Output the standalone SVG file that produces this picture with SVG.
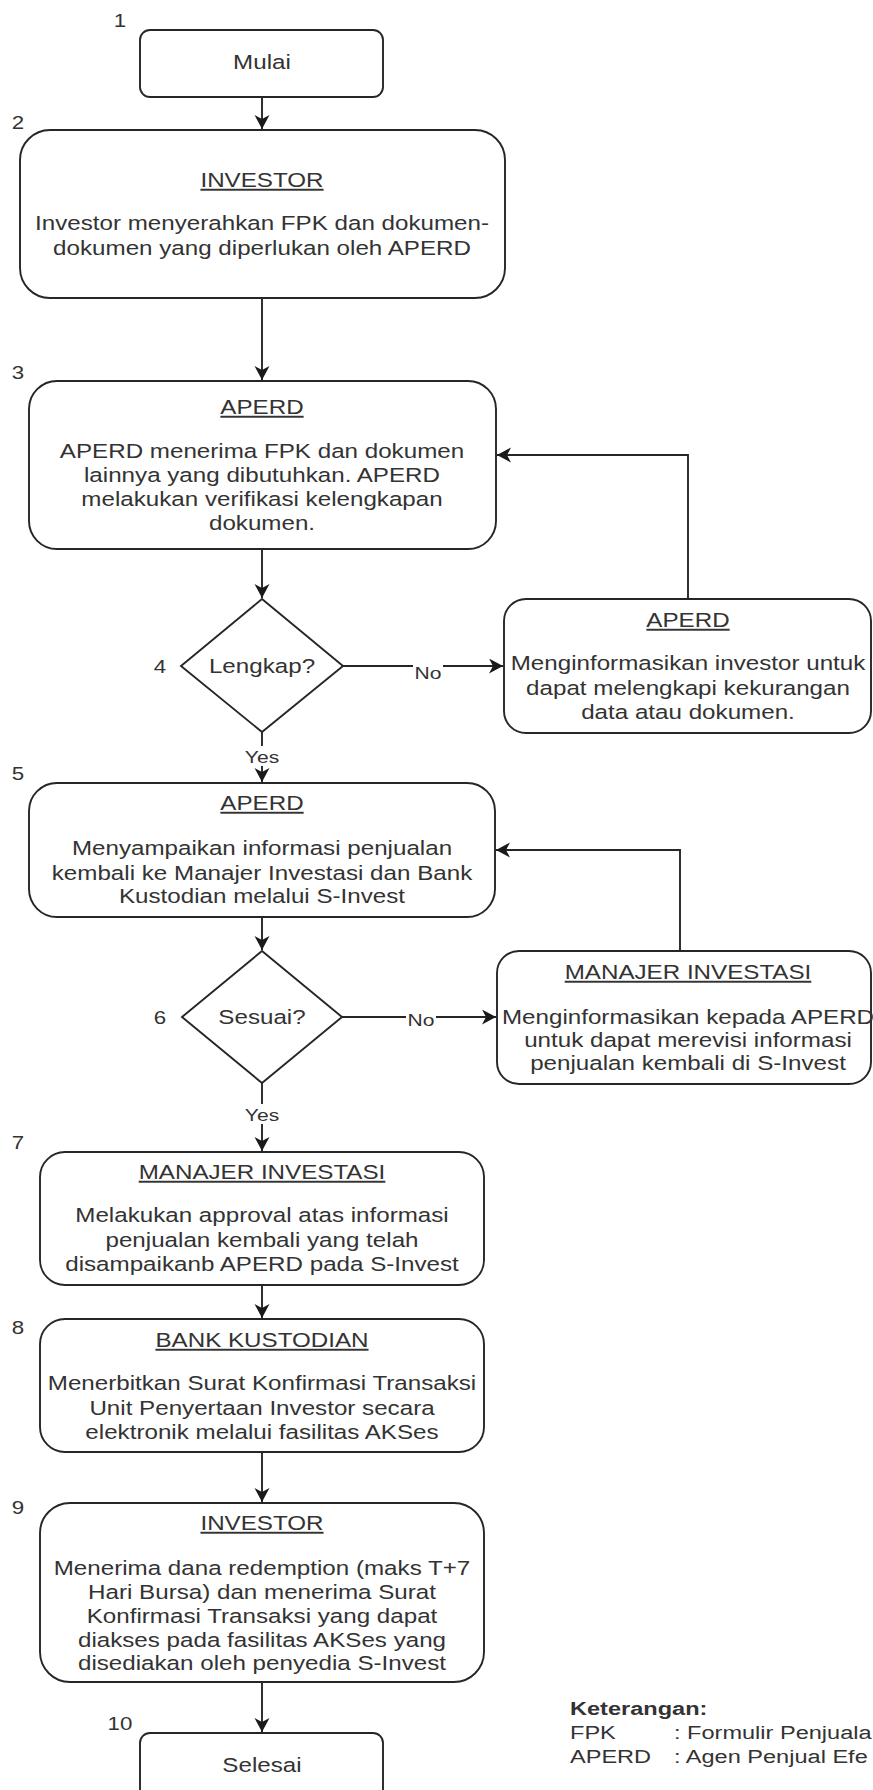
<svg xmlns="http://www.w3.org/2000/svg" width="873" height="1790" viewBox="0 0 873 1790">
<style>
  .box{fill:#ffffff;stroke:#262626;stroke-width:1.9}
  .ln{fill:none;stroke:#262626;stroke-width:1.9}
  .t{font-family:"Liberation Sans",Arial,sans-serif;font-size:19.5px;fill:#333333;text-anchor:middle}
  .h{text-decoration:underline}
  .num{font-family:"Liberation Sans",Arial,sans-serif;font-size:18px;fill:#333333;text-anchor:middle}
  .lbl{font-family:"Liberation Sans",Arial,sans-serif;font-size:17px;fill:#333333;text-anchor:middle}
  .lg{font-family:"Liberation Sans",Arial,sans-serif;font-size:19px;fill:#333333}
  .bg{fill:#ffffff}
</style>
<defs>
  <marker id="arr" markerUnits="userSpaceOnUse" markerWidth="16" markerHeight="16" refX="14" refY="7.5" orient="auto">
    <path d="M0,0 L14,7.5 L0,15 L4,7.5 Z" fill="#1a1a1a"/>
  </marker>
</defs>
<rect width="873" height="1790" fill="#ffffff"/>

<g id="connectors">
  <line class="ln" x1="262" y1="97" x2="262" y2="129" marker-end="url(#arr)"/>
  <line class="ln" x1="262" y1="298" x2="262" y2="380" marker-end="url(#arr)"/>
  <line class="ln" x1="262" y1="549" x2="262" y2="598" marker-end="url(#arr)"/>
  <line class="ln" x1="343" y1="666" x2="503" y2="666" marker-end="url(#arr)"/>
  <rect class="bg" x="413" y="658" width="30" height="22"/>
  <g transform="translate(428 0) scale(1.24 1)"><text class="lbl" x="0" y="679">No</text></g>
  <polyline class="ln" points="688,599 688,455 497,455" marker-end="url(#arr)"/>
  <line class="ln" x1="262" y1="732" x2="262" y2="782" marker-end="url(#arr)"/>
  <rect class="bg" x="242" y="746" width="40" height="20"/>
  <g transform="translate(262 0) scale(1.24 1)"><text class="lbl" x="0" y="763">Yes</text></g>
  <line class="ln" x1="262" y1="917" x2="262" y2="950" marker-end="url(#arr)"/>
  <line class="ln" x1="342" y1="1017" x2="496" y2="1017" marker-end="url(#arr)"/>
  <rect class="bg" x="406" y="1009" width="30" height="22"/>
  <g transform="translate(421 0) scale(1.24 1)"><text class="lbl" x="0" y="1026">No</text></g>
  <polyline class="ln" points="680,951 680,850 496,850" marker-end="url(#arr)"/>
  <line class="ln" x1="262" y1="1083" x2="262" y2="1151" marker-end="url(#arr)"/>
  <rect class="bg" x="242" y="1104" width="40" height="20"/>
  <g transform="translate(262 0) scale(1.24 1)"><text class="lbl" x="0" y="1121">Yes</text></g>
  <line class="ln" x1="262" y1="1285" x2="262" y2="1318" marker-end="url(#arr)"/>
  <line class="ln" x1="262" y1="1452" x2="262" y2="1502" marker-end="url(#arr)"/>
  <line class="ln" x1="262" y1="1682" x2="262" y2="1732" marker-end="url(#arr)"/>
</g>

<g id="n1">
  <rect class="box" x="140" y="30" width="243" height="67" rx="10"/>
  <g transform="translate(120 0) scale(1.24 1)"><text class="num" x="0" y="27">1</text></g>
  <g transform="translate(262 0) scale(1.24 1)"><text class="t" x="0" y="69">Mulai</text></g>
</g>

<g id="n2">
  <rect class="box" x="20" y="130" width="485" height="168" rx="30"/>
  <g transform="translate(18 0) scale(1.24 1)"><text class="num" x="0" y="129">2</text></g>
  <g transform="translate(262 0) scale(1.24 1)">
    <text class="t h" x="0" y="187">INVESTOR</text>
    <text class="t" x="0" y="230">Investor menyerahkan FPK dan dokumen-</text>
    <text class="t" x="0" y="255">dokumen yang diperlukan oleh APERD</text>
  </g>
</g>

<g id="n3">
  <rect class="box" x="29" y="381" width="467" height="168" rx="28"/>
  <g transform="translate(18 0) scale(1.24 1)"><text class="num" x="0" y="379">3</text></g>
  <g transform="translate(262 0) scale(1.24 1)">
    <text class="t h" x="0" y="414">APERD</text>
    <text class="t" x="0" y="458">APERD menerima FPK dan dokumen</text>
    <text class="t" x="0" y="482">lainnya yang dibutuhkan. APERD</text>
    <text class="t" x="0" y="506">melakukan verifikasi kelengkapan</text>
    <text class="t" x="0" y="530">dokumen.</text>
  </g>
</g>

<g id="n4">
  <polygon class="box" points="262,599 343,666 262,732 181,666"/>
  <g transform="translate(160 0) scale(1.24 1)"><text class="num" x="0" y="673">4</text></g>
  <g transform="translate(262 0) scale(1.24 1)"><text class="t" x="0" y="673">Lengkap?</text></g>
</g>

<g id="n4b">
  <rect class="box" x="504" y="599" width="367" height="134" rx="22"/>
  <g transform="translate(688 0) scale(1.24 1)">
    <text class="t h" x="0" y="627">APERD</text>
    <text class="t" x="0" y="670">Menginformasikan investor untuk</text>
    <text class="t" x="0" y="695">dapat melengkapi kekurangan</text>
    <text class="t" x="0" y="719">data atau dokumen.</text>
  </g>
</g>

<g id="n5">
  <rect class="box" x="29" y="783" width="466" height="134" rx="28"/>
  <g transform="translate(18 0) scale(1.24 1)"><text class="num" x="0" y="780">5</text></g>
  <g transform="translate(262 0) scale(1.24 1)">
    <text class="t h" x="0" y="810">APERD</text>
    <text class="t" x="0" y="855">Menyampaikan informasi penjualan</text>
    <text class="t" x="0" y="880">kembali ke Manajer Investasi dan Bank</text>
    <text class="t" x="0" y="903">Kustodian melalui S-Invest</text>
  </g>
</g>

<g id="n6">
  <polygon class="box" points="262,951 342,1017 262,1083 182,1017"/>
  <g transform="translate(160 0) scale(1.24 1)"><text class="num" x="0" y="1024">6</text></g>
  <g transform="translate(262 0) scale(1.24 1)"><text class="t" x="0" y="1024">Sesuai?</text></g>
</g>

<g id="n6b">
  <rect class="box" x="497" y="951" width="374" height="133" rx="22"/>
  <g transform="translate(688 0) scale(1.24 1)">
    <text class="t h" x="0" y="979">MANAJER INVESTASI</text>
    <text class="t" x="0" y="1024">Menginformasikan kepada APERD</text>
    <text class="t" x="0" y="1047">untuk dapat merevisi informasi</text>
    <text class="t" x="0" y="1070">penjualan kembali di S-Invest</text>
  </g>
</g>

<g id="n7">
  <rect class="box" x="40" y="1152" width="444" height="133" rx="25"/>
  <g transform="translate(18 0) scale(1.24 1)"><text class="num" x="0" y="1149">7</text></g>
  <g transform="translate(262 0) scale(1.24 1)">
    <text class="t h" x="0" y="1179">MANAJER INVESTASI</text>
    <text class="t" x="0" y="1222">Melakukan approval atas informasi</text>
    <text class="t" x="0" y="1247">penjualan kembali yang telah</text>
    <text class="t" x="0" y="1271">disampaikanb APERD pada S-Invest</text>
  </g>
</g>

<g id="n8">
  <rect class="box" x="40" y="1319" width="444" height="133" rx="25"/>
  <g transform="translate(18 0) scale(1.24 1)"><text class="num" x="0" y="1334">8</text></g>
  <g transform="translate(262 0) scale(1.24 1)">
    <text class="t h" x="0" y="1347">BANK KUSTODIAN</text>
    <text class="t" x="0" y="1390">Menerbitkan Surat Konfirmasi Transaksi</text>
    <text class="t" x="0" y="1415">Unit Penyertaan Investor secara</text>
    <text class="t" x="0" y="1439">elektronik melalui fasilitas AKSes</text>
  </g>
</g>

<g id="n9">
  <rect class="box" x="40" y="1503" width="444" height="179" rx="30"/>
  <g transform="translate(18 0) scale(1.24 1)"><text class="num" x="0" y="1514">9</text></g>
  <g transform="translate(262 0) scale(1.24 1)">
    <text class="t h" x="0" y="1530">INVESTOR</text>
    <text class="t" x="0" y="1575">Menerima dana redemption (maks T+7</text>
    <text class="t" x="0" y="1599">Hari Bursa) dan menerima Surat</text>
    <text class="t" x="0" y="1623">Konfirmasi Transaksi yang dapat</text>
    <text class="t" x="0" y="1647">diakses pada fasilitas AKSes yang</text>
    <text class="t" x="0" y="1670">disediakan oleh penyedia S-Invest</text>
  </g>
</g>

<g id="n10">
  <rect class="box" x="140" y="1733" width="243" height="67" rx="10"/>
  <g transform="translate(120 0) scale(1.24 1)"><text class="num" x="0" y="1730">10</text></g>
  <g transform="translate(262 0) scale(1.24 1)"><text class="t" x="0" y="1772">Selesai</text></g>
</g>

<g id="legend">
  <g transform="translate(570 0) scale(1.24 1)">
    <text class="lg" x="0" y="1715" font-weight="bold">Keterangan:</text>
    <text class="lg" x="0" y="1739">FPK</text>
    <text class="lg" x="0" y="1763">APERD</text>
  </g>
  <g transform="translate(674 0) scale(1.24 1)">
    <text class="lg" x="0" y="1739">: Formulir Penjuala</text>
    <text class="lg" x="0" y="1763">: Agen Penjual Efe</text>
  </g>
</g>
</svg>
